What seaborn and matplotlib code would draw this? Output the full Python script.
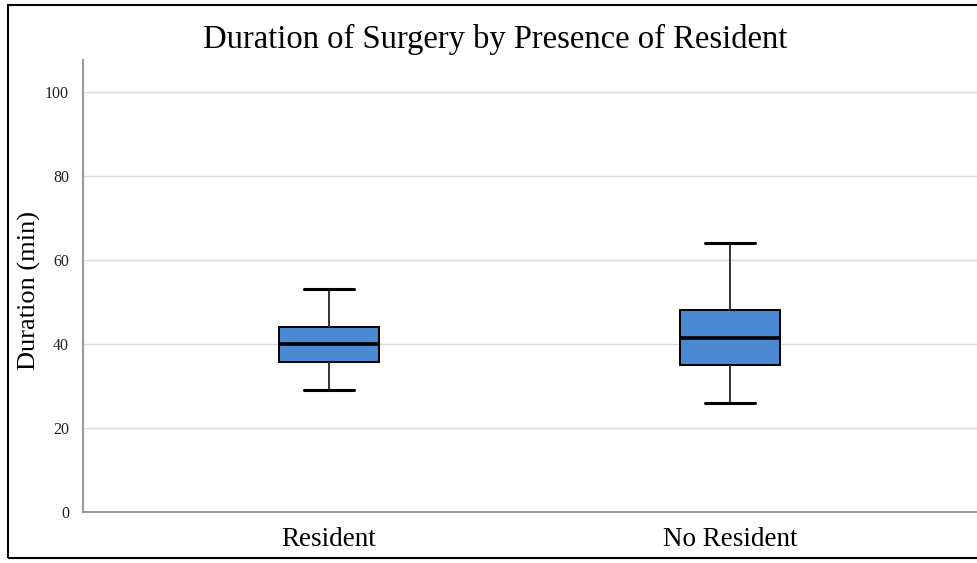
import matplotlib
matplotlib.use("Agg")
import matplotlib.pyplot as plt
import matplotlib.patches as mpatches
import seaborn as sns
import pandas as pd

# ---- Data: five-number summaries ----
groups = ["Resident", "No Resident"]
resident = [29, 35.6, 40, 44, 53]       # min, Q1, median, Q3, max
no_resident = [26, 35, 41.5, 48, 64]

df = pd.DataFrame({
    "group": [groups[0]] * len(resident) + [groups[1]] * len(no_resident),
    "duration": resident + no_resident,
})

sns.set_theme(style="white")
plt.rcParams["font.family"] = ["Liberation Serif", "DejaVu Serif"]
plt.rcParams["text.color"] = "black"
plt.rcParams["axes.labelcolor"] = "black"
plt.rcParams["xtick.color"] = "black"
plt.rcParams["ytick.color"] = "#222222"

fig = plt.figure(figsize=(9.77, 5.63), dpi=100)
ax = fig.add_axes([83 / 977, 1 - 512 / 563, (977 - 83) / 977, (512 - 60) / 563])

sns.boxplot(data=df, x="group", y="duration", order=groups, ax=ax,
            width=0.25, whis=(0, 100), color="#4a89d2", saturation=1,
            linecolor="black", linewidth=1.4,
            medianprops={"linewidth": 2.6, "color": "black"},
            whiskerprops={"color": "#333333"},
            capprops={"linewidth": 2.2, "color": "black"})

ax.set_ylim(0, 107.5)
ax.set_xlim(-0.613, 1.616)
ax.set_yticks([0, 20, 40, 60, 80, 100])
ax.yaxis.grid(True, color="#d9d9d9", linewidth=1)
ax.set_axisbelow(True)
for side in ["top", "right"]:
    ax.spines[side].set_visible(False)
for side in ["left", "bottom"]:
    ax.spines[side].set_color("#999999")
    ax.spines[side].set_linewidth(1.5)
ax.tick_params(axis="y", labelsize=11.5, length=0, pad=10)
ax.tick_params(axis="x", labelsize=19.5, length=0, pad=11)
ax.set_xlabel("")
ax.set_ylabel("Duration (min)", fontsize=19)
ax.yaxis.set_label_coords(-42 / 894, 0.49)

fig.text(495 / 977, 1 - 39 / 563, "Duration of Surgery by Presence of Resident",
         ha="center", va="center", fontsize=23.5)

# outer frame
fig.patches.append(mpatches.Rectangle((8 / 977, 1 - 558 / 563), 1.0, (558 - 5) / 563,
                                      transform=fig.transFigure, fill=False,
                                      edgecolor="black", linewidth=1.5))

fig.savefig("out.png", dpi=100)
